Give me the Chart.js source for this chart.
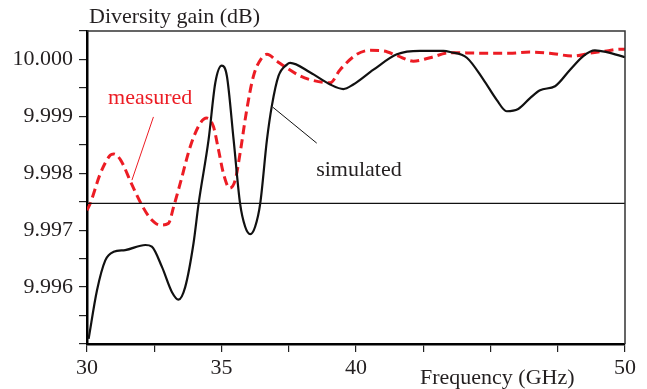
<!DOCTYPE html>
<html>
<head>
<meta charset="utf-8">
<script src="https://cdn.jsdelivr.net/npm/chart.js@4.4.0/dist/chart.umd.min.js"></script>
<style>
  html, body { margin: 0; padding: 0; background: #fff; }
  #wrap { width: 647px; height: 389px; position: relative; }
</style>
</head>
<body>
<div id="wrap"><canvas id="c"></canvas></div>
<script>
// ---- Data ----
const simFreq = [30.06, 30.37, 30.68, 30.99, 31.42, 32.17, 32.41, 32.79, 33.16, 33.40, 33.65, 33.96, 34.15, 34.52, 34.77, 35.01, 35.20, 35.45, 35.69, 35.88, 36.07, 36.25, 36.44, 36.69, 36.87, 37.12, 37.43, 37.55, 38.30, 39.04, 39.53, 39.90, 40.65, 41.52, 42.38, 43.25, 43.50, 44.12, 44.73, 45.23, 45.60, 46.03, 46.47, 46.84, 47.40, 47.96, 48.45, 48.88, 49.32, 49.93, 50.00];
const simGain = [9.99509, 9.99594, 9.99647, 9.99662, 9.99665, 9.99674, 9.99671, 9.99635, 9.99591, 9.99578, 9.99600, 9.99677, 9.99747, 9.99859, 9.99959, 9.99989, 9.99971, 9.99859, 9.99747, 9.99706, 9.99693, 9.99706, 9.99747, 9.99859, 9.99918, 9.99971, 9.99991, 9.99994, 9.99977, 9.99956, 9.99948, 9.99956, 9.99982, 10.00009, 10.00015, 10.00015, 10.00013, 10.00003, 9.99965, 9.99929, 9.99909, 9.99913, 9.99932, 9.99946, 9.99953, 9.99982, 10.00006, 10.00016, 10.00013, 10.00005, 10.00004];

const measFreq = [30.00, 30.12, 30.50, 30.87, 30.99, 31.24, 31.67, 32.04, 32.35, 32.72, 33.03, 33.22, 33.47, 33.84, 34.21, 34.45, 34.70, 34.89, 35.07, 35.30, 35.51, 35.69, 35.94, 36.19, 36.50, 36.69, 37.06, 37.43, 37.92, 38.42, 39.04, 39.41, 40.03, 40.52, 41.02, 41.52, 42.13, 42.75, 43.50, 44.73, 45.70, 46.47, 47.20, 48.07, 48.70, 49.32, 49.81, 50.00];
const measGain = [9.99735, 9.99747, 9.99800, 9.99832, 9.99834, 9.99824, 9.99780, 9.99744, 9.99721, 9.99709, 9.99712, 9.99741, 9.99783, 9.99847, 9.99888, 9.99897, 9.99882, 9.99841, 9.99800, 9.99774, 9.99788, 9.99835, 9.99912, 9.99971, 10.00003, 10.00009, 9.99997, 9.99985, 9.99971, 9.99963, 9.99959, 9.99982, 10.00009, 10.00016, 10.00015, 10.00007, 9.99997, 10.00003, 10.00012, 10.00011, 10.00011, 10.00013, 10.00011, 10.00006, 10.00011, 10.00015, 10.00018, 10.00018];

const refLineFreq = [30, 50];
const refLineGain = [9.99747, 9.99747];

const measLeaderFreq = [32.47, 31.67];
const measLeaderGain = [9.99899, 9.99788];
const simLeaderFreq = [36.91, 38.54];
const simLeaderGain = [9.99916, 9.99853];

const xTickLabels = [30, 35, 40, 50];
const yTickLabels = [9.996, 9.997, 9.998, 9.999, 10.000];

const xTitle = 'Frequency (GHz)';
const yTitle = 'Diversity gain (dB)';
const measLabel = { text: 'measured', f: 32.35, v: 9.99932 };
const simLabel = { text: 'simulated', f: 40.11, v: 9.99806 };

// ---- Chart ----
const pts = (xs, ys) => xs.map((x, i) => ({ x, y: ys[i] }));
const FONT = "'Liberation Serif', 'Times New Roman', serif";
const TXT = '#231f20';
const RED = '#ec1c24';

const textPlugin = {
  id: 'texts',
  afterDraw(chart) {
    const { ctx, chartArea, scales } = chart;
    ctx.save();
    // top & right frame
    ctx.strokeStyle = '#333';
    ctx.lineWidth = 1.5;
    ctx.beginPath();
    ctx.moveTo(chartArea.left, chartArea.top);
    ctx.lineTo(chartArea.right, chartArea.top);
    ctx.lineTo(chartArea.right, chartArea.bottom);
    ctx.stroke();

    ctx.font = '22px ' + FONT;
    ctx.fillStyle = TXT;
    ctx.textBaseline = 'middle';
    ctx.textAlign = 'left';
    ctx.fillText(yTitle, 89, 17);
    ctx.fillText(xTitle, 420, 378);

    ctx.textAlign = 'center';
    ctx.fillStyle = RED;
    ctx.fillText(measLabel.text, scales.x.getPixelForValue(measLabel.f), scales.y.getPixelForValue(measLabel.v));
    ctx.fillStyle = TXT;
    ctx.fillText(simLabel.text, scales.x.getPixelForValue(simLabel.f), scales.y.getPixelForValue(simLabel.v));
    ctx.restore();
  }
};

new Chart(document.getElementById('c'), {
  type: 'line',
  data: {
    datasets: [
      { data: pts(refLineFreq, refLineGain), borderColor: '#111', borderWidth: 1.2, pointRadius: 0, tension: 0 },
      { data: pts(simFreq, simGain), borderColor: '#111', borderWidth: 2.2, pointRadius: 0, cubicInterpolationMode: 'monotone' },
      { data: pts(measFreq, measGain), borderColor: RED, borderWidth: 3, borderDash: [9, 5], pointRadius: 0, cubicInterpolationMode: 'monotone' },
      { data: pts(measLeaderFreq, measLeaderGain), borderColor: RED, borderWidth: 1, pointRadius: 0, tension: 0 },
      { data: pts(simLeaderFreq, simLeaderGain), borderColor: '#111', borderWidth: 1, pointRadius: 0, tension: 0 }
    ]
  },
  options: {
    responsive: true,
    maintainAspectRatio: false,
    animation: false,
    events: [],
    layout: { padding: { left: 0, right: 22, top: 31, bottom: 0 } },
    plugins: { legend: { display: false }, tooltip: { enabled: false }, title: { display: false } },
    scales: {
      x: {
        type: 'linear', min: 30, max: 50,
        afterFit: s => { s.height = 45; },
        border: { color: '#000', width: 2.5 },
        grid: { drawOnChartArea: false, drawTicks: true, tickLength: 8, color: '#222', lineWidth: 1.2 },
        ticks: {
          stepSize: 2.5, padding: 3, color: TXT, maxRotation: 0, autoSkip: false,
          font: { family: FONT, size: 22 },
          callback: v => xTickLabels.includes(v) ? String(v) : ''
        }
      },
      y: {
        type: 'linear', min: 9.995, max: 10.0005,
        afterFit: s => { s.width = 87; },
        border: { color: '#000', width: 2.5 },
        grid: { drawOnChartArea: false, drawTicks: true, tickLength: 8, color: '#222', lineWidth: 1.2 },
        ticks: {
          stepSize: 0.0005, padding: 6, color: TXT, autoSkip: false,
          font: { family: FONT, size: 22 },
          callback: v => {
            const hit = yTickLabels.find(t => Math.abs(t - v) < 1e-7);
            return hit !== undefined ? hit.toFixed(3) : '';
          }
        }
      }
    }
  },
  plugins: [textPlugin]
});
</script>
</body>
</html>
